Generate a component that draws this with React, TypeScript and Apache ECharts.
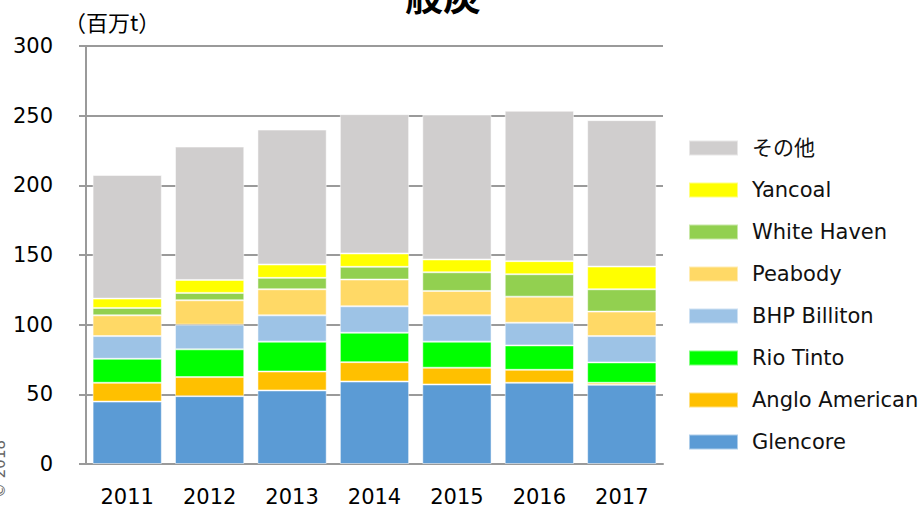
import React, { useEffect, useRef } from "react";
import * as echarts from "echarts";

const years = ["2011", "2012", "2013", "2014", "2015", "2016", "2017"];
const seriesNames = ["Glencore", "Anglo American", "Rio Tinto", "BHP Billiton", "Peabody", "White Haven", "Yancoal", "その他"];
const glencore = [44.8, 48.7, 52.8, 59.2, 57.1, 58.3, 56.8];
const angloAmerican = [13.5, 13.7, 13.6, 13.9, 12.0, 9.3, 1.5];
const rioTinto = [17.2, 19.9, 21.4, 21.1, 18.7, 17.5, 14.6];
const bhpBilliton = [16.3, 17.7, 18.9, 19.0, 18.9, 16.3, 18.9];
const peabody = [14.9, 17.5, 18.7, 19.2, 17.5, 18.7, 17.6];
const whiteHaven = [5.3, 5.3, 8.2, 9.1, 13.4, 16.1, 16.0];
const yancoal = [6.7, 9.3, 9.6, 9.6, 9.2, 9.4, 16.3];
const others = [88.7, 95.7, 96.8, 100.0, 103.8, 107.9, 105.1];
const colors = ["#5B9BD5", "#FFC000", "#00FF00", "#9DC3E6", "#FFD966", "#92D050", "#FFFF00", "#D0CECE"];
const yTicks = [0, 50, 100, 150, 200, 250, 300];

const FONT = "'DejaVu Sans', 'Noto Sans CJK JP', sans-serif";

export default function App() {
  const ref = useRef<HTMLDivElement>(null);
  useEffect(() => {
    if (!ref.current) return;
    const chart = echarts.init(ref.current, undefined, { renderer: "svg" });
    const values = [glencore, angloAmerican, rioTinto, bhpBilliton, peabody, whiteHaven, yancoal, others];
    const axisColor = "#9a9a9a";
    chart.setOption({
      animation: false,
      color: colors,
      grid: { left: 86, top: 46, right: 261, bottom: 42, containLabel: false },
      graphic: [
        {
          type: "text",
          x: 443,
          y: 12,
          style: {
            text: "般炭",
            font: "bold 38px 'Noto Sans CJK JP', sans-serif",
            fill: "#000",
            textAlign: "center",
            textVerticalAlign: "bottom",
          },
        },
        {
          type: "text",
          x: 64,
          y: 10,
          style: {
            text: "（百万t）",
            font: "22px 'Noto Sans CJK JP', sans-serif",
            fill: "#000",
          },
        },
        {
          type: "text",
          x: 0,
          y: 469,
          rotation: Math.PI / 2,
          style: {
            text: "© 2018",
            font: "15px 'DejaVu Sans', sans-serif",
            fill: "#666",
            textAlign: "center",
            textVerticalAlign: "middle",
          },
        },
      ],
      legend: {
        orient: "vertical",
        left: 683,
        top: 132,
        itemWidth: 49,
        itemHeight: 15,
        itemGap: 20,
        icon: "rect",
        data: seriesNames.slice().reverse(),
        textStyle: {
          fontFamily: FONT,
          fontSize: 21,
          lineHeight: 22,
          color: "#111",
          padding: [0, 0, 0, 9],
        },
      },
      xAxis: {
        type: "category",
        data: years,
        axisLine: { show: true, lineStyle: { color: axisColor, width: 2 } },
        axisTick: { show: false },
        axisLabel: { fontFamily: FONT, fontSize: 21, color: "#000", margin: 22 },
      },
      yAxis: {
        type: "value",
        min: 0,
        max: yTicks[yTicks.length - 1],
        interval: yTicks[1] - yTicks[0],
        axisLine: { show: true, lineStyle: { color: axisColor, width: 2 } },
        axisTick: { show: true, length: 7, lineStyle: { color: axisColor, width: 2 } },
        splitLine: { show: true, lineStyle: { color: axisColor, width: 2 } },
        axisLabel: { fontFamily: FONT, fontSize: 21, color: "#000", margin: 33 },
      },
      series: seriesNames.map((name, i) => ({
        name,
        type: "bar",
        stack: "total",
        barCategoryGap: "16%",
        data: values[i],
        itemStyle: {
          color: colors[i],
          borderColor: "rgba(255,255,255,0.5)",
          borderWidth: 1,
        },
      })),
    });
    return () => chart.dispose();
  }, []);
  return <div ref={ref} style={{ width: 924, height: 507, position: "absolute", left: 0, top: 0, background: "#fff" }} />;
}
